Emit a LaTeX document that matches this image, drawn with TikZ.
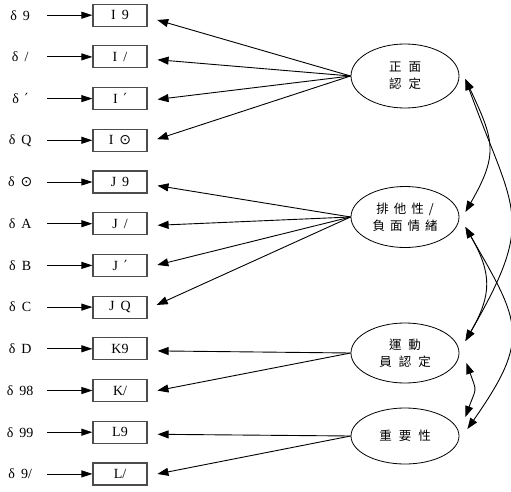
\documentclass[tikz,border=0pt]{standalone}
\usepackage{fontspec}
\setmainfont{Liberation Serif}
\newfontfamily\cjk{Noto Sans CJK TC}
\newfontfamily\glyphfont{DejaVu Sans}
\usetikzlibrary{arrows.meta, positioning, shapes.geometric}
\newcommand{\Gap}{\hspace{7pt}}
\newcommand{\Sep}{\hspace{6pt}}
\newcommand{\Tick}{{\glyphfont ′}}
\newcommand{\Ring}{{\glyphfont ⊙}}
\tikzset{
    item/.style={draw=black!70, line width=1.2pt, minimum width=54pt, minimum height=22pt, inner sep=0pt, font=\fontsize{14}{16}\selectfont},
    err/.style={minimum width=54pt, inner sep=0pt, font=\fontsize{14}{16}\selectfont},
    factor/.style={draw, ellipse, line width=0.8pt, minimum width=108pt, minimum height=60pt, inner sep=0pt, align=center, font=\cjk\fontsize{12.5}{17}\selectfont},
}

\begin{document}
\begin{tikzpicture}[x=1pt, y=1pt]
    \tikzset{
      node distance=18.5pt,
      eps/.style={-{Triangle[length=11pt,width=7pt]}, line width=0.8pt},
      load/.style={-{Triangle[length=11pt,width=8pt]}, line width=0.9pt, shorten >=10pt},
      cov/.style={{Triangle[length=11pt,width=8pt]}-{Triangle[length=11pt,width=8pt]}, line width=0.9pt},
    }
    \useasboundingbox (0,0) rectangle (511,-492);

    % observed items
    \node[item] (I1) at (120,-15.2) {I\Sep 9};
    \node[item, below=of I1] (I2) {I\Sep /};
    \node[item, below=of I2] (I3) {I\Sep \Tick};
    \node[item, below=of I3] (I4) {I\Sep \Ring};
    \node[item, below=of I4] (J1) {J\Sep 9};
    \node[item, below=of J1] (J2) {J\Sep /};
    \node[item, below=of J2] (J3) {J\Sep \Tick};
    \node[item, below=of J3] (J4) {J\Sep Q};
    \node[item, below=of J4] (K1) {K9};
    \node[item, below=of K1] (K2) {K/};
    \node[item, below=of K2] (L1) {L9};
    \node[item, below=of L1] (L2) {L/};

    % error terms
    \node[err, left=45pt of I1] (d1) {δ\Sep 9};
    \node[err, left=45pt of I2] (d2) {δ\Sep /};
    \node[err, left=45pt of I3] (d3) {δ\Sep \Tick};
    \node[err, left=45pt of I4] (d4) {δ\Sep Q};
    \node[err, left=45pt of J1] (d5) {δ\Sep \Ring};
    \node[err, left=45pt of J2] (d6) {δ\Sep A};
    \node[err, left=45pt of J3] (d7) {δ\Sep B};
    \node[err, left=45pt of J4] (d8) {δ\Sep C};
    \node[err, left=45pt of K1] (d9) {δ\Sep D};
    \node[err, left=45pt of K2] (d10) {δ\Sep 98};
    \node[err, left=45pt of L1] (d11) {δ\Sep 99};
    \node[err, left=45pt of L2] (d12) {δ\Sep 9/};

    \draw[eps] (d1) -- (I1);
    \draw[eps] (d2) -- (I2);
    \draw[eps] (d3) -- (I3);
    \draw[eps] (d4) -- (I4);
    \draw[eps] (d5) -- (J1);
    \draw[eps] (d6) -- (J2);
    \draw[eps] (d7) -- (J3);
    \draw[eps] (d8) -- (J4);
    \draw[eps] (d9) -- (K1);
    \draw[eps] (d10) -- (K2);
    \draw[eps] (d11) -- (L1);
    \draw[eps] (d12) -- (L2);

    % latent factors
    \node[factor, minimum height=64pt] (e1) at (405,-76) {正\Gap 面\\認\Gap 定};
    \node[factor, minimum height=61pt] (e2) at (405,-217) {排\hspace{5pt}他\hspace{5pt}性\hspace{5pt}/\\負\hspace{5pt}面\hspace{5pt}情\hspace{5pt}緒};
    \node[factor] (e3) at (405,-353) {運\Gap 動\\員\Gap 認\Gap 定};
    \node[factor, minimum height=56pt] (e4) at (405,-436) {重\Gap 要\Gap 性};

    \draw[load] (e1.west) -- ([yshift=-2pt]I1.east);
    \draw[load] (e1.west) -- ([yshift=-2pt]I2.east);
    \draw[load] (e1.west) -- ([yshift=-2pt]I3.east);
    \draw[load] (e1.west) -- ([yshift=-2pt]I4.east);
    \draw[load] (e2.west) -- ([yshift=-2pt]J1.east);
    \draw[load] (e2.west) -- ([yshift=-2pt]J2.east);
    \draw[load] (e2.west) -- ([yshift=-2pt]J3.east);
    \draw[load] (e2.west) -- ([yshift=-2pt]J4.east);
    \draw[load] (e3.west) -- ([yshift=-2pt]K1.east);
    \draw[load] (e3.west) -- ([yshift=-2pt]K2.east);
    \draw[load] (e4.west) -- ([yshift=-2pt]L1.east);
    \draw[load] (e4.west) -- ([yshift=-2pt]L2.east);

    % covariances
    \draw[cov] ([shift={(6,-3)}]e1.east) to[out=-65, in=60, looseness=1.3] ([shift={(6,5)}]e2.east);
    \draw[cov] ([shift={(6,-3)}]e1.east) to[out=-70, in=60, looseness=1.4] ([shift={(6,12)}]e3.east);
    \draw[cov] ([shift={(6,-10)}]e2.east) to[out=-60, in=60, looseness=1.2] ([shift={(6,12)}]e3.east);
    \draw[cov] ([shift={(6,-10)}]e2.east) to[out=-60, in=55, looseness=1.4] ([shift={(8,7)}]e4.east);
    \draw[cov] ([shift={(7,-10)}]e3.east) to[out=-70, in=70, looseness=1.5] ([shift={(6,19)}]e4.east);
\end{tikzpicture}
\end{document}
